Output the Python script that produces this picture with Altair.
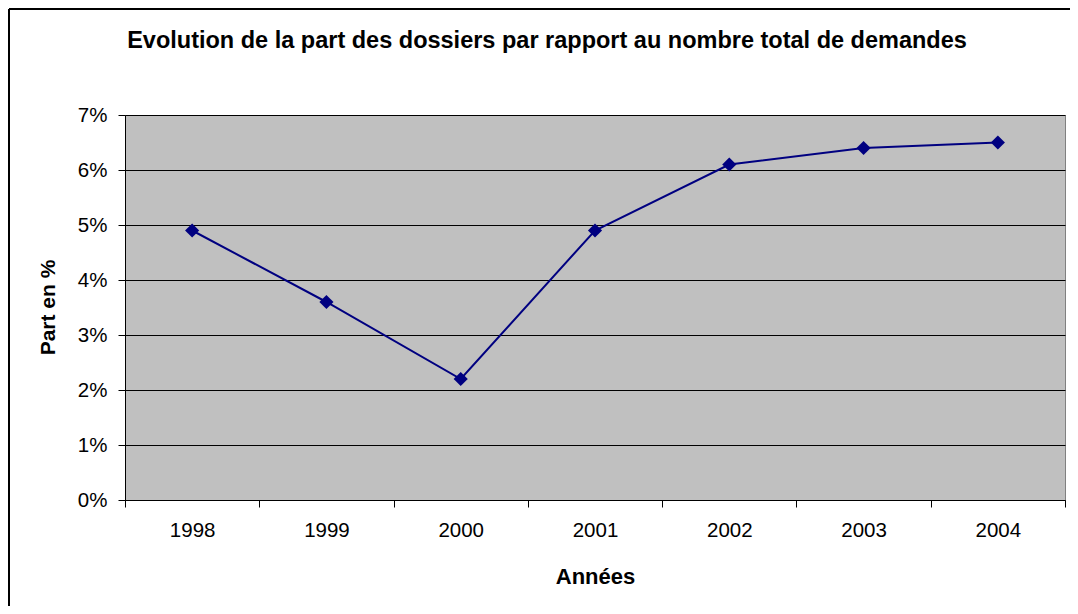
import altair as alt
import pandas as pd

years = ["1998", "1999", "2000", "2001", "2002", "2003", "2004"]
share = [4.9, 3.6, 2.2, 4.9, 6.1, 6.4, 6.5]
y_ticks = [0, 1, 2, 3, 4, 5, 6, 7]

df = pd.DataFrame({"Année": years, "Part": share})

FONT = "Liberation Sans"

x_enc = alt.X(
    "Année:N",
    sort=years,
    title="Années",
    scale=alt.Scale(paddingInner=0, paddingOuter=0),
    axis=alt.Axis(
        labelAngle=0,
        labelFontSize=20.5,
        labelFont=FONT,
        labelColor="black",
        labelPadding=13,
        tickBand="extent",
        tickSize=7,
        tickColor="black",
        domainColor="black",
        grid=False,
        titleFont=FONT,
        titleFontSize=22,
        titleFontWeight="bold",
        titleColor="black",
        titleY=76,
        titleBaseline="middle",
    ),
)

y_enc = alt.Y(
    "Part:Q",
    title="Part en %",
    scale=alt.Scale(domain=[0, 7], nice=False, zero=True),
    axis=alt.Axis(
        values=y_ticks,
        labelExpr="datum.value + '%'",
        labelFontSize=20.5,
        labelFont=FONT,
        labelColor="black",
        labelPadding=11,
        tickSize=7,
        tickColor="black",
        domainColor="black",
        grid=True,
        gridColor="black",
        gridOpacity=1,
        gridWidth=1,
        titleFont=FONT,
        titleFontSize=21,
        titleFontWeight="bold",
        titleColor="black",
        titleX=-77,
        titleY=192,
        titleBaseline="middle",
        titleAngle=-90,
    ),
)

base = alt.Chart(df)
line = base.mark_line(color="#000080", strokeWidth=2).encode(x=x_enc, y=y_enc)
points = base.mark_point(
    shape="diamond", size=200, filled=True, color="#000080", opacity=1
).encode(x=alt.X("Année:N", sort=years), y="Part:Q")

frame_df = pd.DataFrame({"k": [0]})
left_border = alt.Chart(frame_df).mark_rule(color="black", strokeWidth=2).encode(
    x=alt.value(-116), y=alt.value(-106), y2=alt.value(600)
)
top_border = alt.Chart(frame_df).mark_rule(color="black", strokeWidth=2).encode(
    x=alt.value(-116), x2=alt.value(1000), y=alt.value(-106)
)

chart = (
    alt.layer(line, points, left_border, top_border)
    .properties(
        width=940,
        height=385,
        padding={"left": 117, "top": 107, "right": 5, "bottom": 106},
        autosize=alt.AutoSizeParams(type="none"),
        title=alt.TitleParams(
            "Evolution de la part des dossiers par rapport au nombre total de demandes",
            font=FONT,
            fontSize=23.5,
            fontWeight="bold",
            color="black",
            anchor="middle",
            baseline="alphabetic",
            dx=-48,
            dy=63,
            offset=0,
        ),
    )
    .configure(background="white")
    .configure_view(fill="#C0C0C0", stroke="#808080", strokeWidth=1)
)

chart.save("out.html", embed_options={"renderer": "svg", "actions": False})
